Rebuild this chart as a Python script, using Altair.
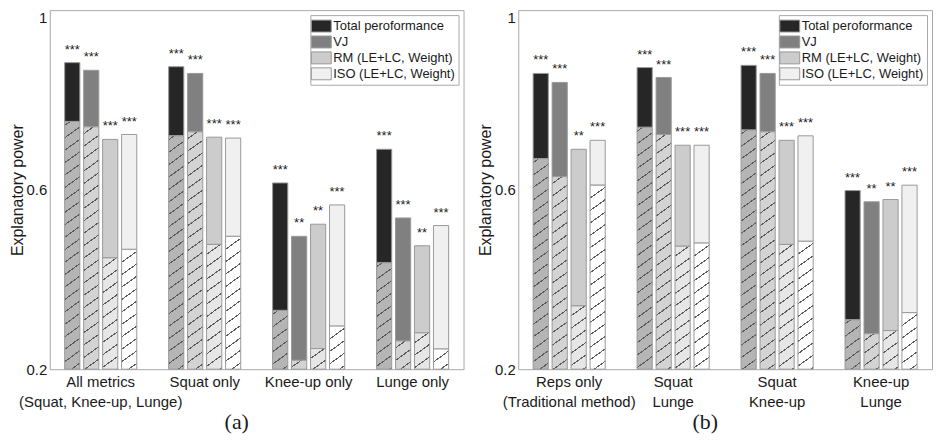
import altair as alt
import pandas as pd

# ---------------- data ----------------
series = ["Total peroformance", "VJ", "RM (LE+LC, Weight)", "ISO (LE+LC, Weight)"]

cats_a = ["All metrics|(Squat, Knee-up, Lunge)", "Squat only", "Knee-up only", "Lunge only"]
cats_b = ["Reps only|(Traditional method)", "Squat|Lunge", "Squat|Knee-up", "Knee-up|Lunge"]

# total height of each bar (rows = categories, columns = series)
a_total = [[0.883, 0.866, 0.712, 0.723],
           [0.874, 0.859, 0.717, 0.715],
           [0.615, 0.496, 0.523, 0.566],
           [0.690, 0.537, 0.475, 0.520]]
# height of the hatched lower part
a_hatch = [[0.752, 0.740, 0.448, 0.467],
           [0.720, 0.729, 0.478, 0.496],
           [0.331, 0.220, 0.246, 0.296],
           [0.437, 0.263, 0.281, 0.245]]
a_sig = [["***", "***", "***", "***"],
         ["***", "***", "***", "***"],
         ["***", "**", "**", "***"],
         ["***", "***", "**", "***"]]

b_total = [[0.859, 0.839, 0.690, 0.710],
           [0.872, 0.850, 0.699, 0.699],
           [0.877, 0.859, 0.710, 0.720],
           [0.598, 0.573, 0.578, 0.610]]
b_hatch = [[0.669, 0.629, 0.341, 0.610],
           [0.739, 0.723, 0.474, 0.481],
           [0.733, 0.729, 0.478, 0.485],
           [0.310, 0.279, 0.286, 0.326]]
b_sig = [["***", "***", "**", "***"],
         ["***", "***", "***", "***"],
         ["***", "***", "***", "***"],
         ["***", "**", "**", "***"]]

y_ticks = [0.2, 0.6, 1.0]

# ---------------- style ----------------
SOLID = ["#262626", "#808080", "#cccccc", "#f0f0f0"]
HATCH_BG = ["#b5b5b5", "#d3d3d3", "#e6e6e6", "#ffffff"]
HATCH_LINE = "#5a5a5a"
EDGE = "#999999"
TXT = "#1a1a1a"
FONT = "Liberation Sans"

W, H = 416, 361
YMIN, YMAX = 0.2, 1.0
XPI, XPO = 0.27, 0.125
OPI, OPO = 0.2, 0.1


def bar_width(n_cats):
    step = W / (n_cats - XPI + 2 * XPO)
    band = step * (1 - XPI)
    sub = band / (len(series) - OPI + 2 * OPO)
    return sub * (1 - OPI)


def hatch_gradient(bg, h_px, w_px, slope=0.72, spacing=12.5, thick=1.3, phase=5.0):
    L = slope * w_px + h_px
    stops = [{"offset": 0, "color": bg}]
    p = phase
    while p < L:
        a = max(0.0, (p - thick / 2) / L)
        b = min(1.0, (p + thick / 2) / L)
        a, b = round(a, 5), round(b, 5)
        stops += [{"offset": a, "color": bg}, {"offset": a, "color": HATCH_LINE},
                  {"offset": b, "color": HATCH_LINE}, {"offset": b, "color": bg}]
        p += spacing
    stops.append({"offset": 1, "color": bg})
    denom = slope ** 2 * w_px ** 2 + h_px ** 2
    x2 = L * slope * w_px / denom
    y2 = L * h_px / denom
    return {"gradient": "linear", "x1": 0, "y1": 0,
            "x2": round(x2, 5), "y2": round(y2, 5), "stops": stops}


def panel(cats, totals, hatches, sigs, label):
    rows = []
    for i, c in enumerate(cats):
        for j, s in enumerate(series):
            rows.append(dict(id=len(rows), cat=c, series=s, total=totals[i][j],
                             hatch=hatches[i][j], sig=sigs[i][j], sidx=j))
    df = pd.DataFrame(rows)
    base = alt.Chart(df)

    xaxis = alt.Axis(title=None, labelExpr="split(datum.label, '|')", ticks=False,
                     domain=False, labelAngle=0, labelFontSize=15, labelPadding=5,
                     labelLineHeight=21, labelColor=TXT, labelFont=FONT)
    x = alt.X("cat:N", scale=alt.Scale(domain=cats, paddingInner=XPI, paddingOuter=XPO),
              axis=xaxis)
    xo = alt.XOffset("series:N", scale=alt.Scale(domain=series, paddingInner=OPI,
                                                  paddingOuter=OPO))
    yscale = alt.Scale(domain=[YMIN, YMAX], nice=False, zero=False)
    yaxis = alt.Axis(values=y_ticks, format=".1~f", title="Explanatory power", ticks=False,
                     domain=False, grid=False, labelFontSize=15, labelPadding=3,
                     labelBaseline={"condition": {"test": "datum.value >= 1", "value": "top"},
                                    "value": "middle"},
                     titleFontSize=16, titleFontWeight="normal", titlePadding=1,
                     labelColor=TXT, titleColor=TXT, labelFont=FONT, titleFont=FONT)

    top = base.mark_bar(stroke=EDGE, strokeWidth=1).encode(
        x=x, xOffset=xo,
        y=alt.Y("total:Q", scale=yscale, axis=yaxis),
        y2="hatch:Q",
        color=alt.Color("series:N", scale=alt.Scale(domain=series, range=SOLID),
                        legend=alt.Legend(
                            title=None, orient="top-right", offset=5,
                            fillColor="white", strokeColor="#a8a8a8", padding=3,
                            symbolType="M-1.333,-0.8H1.333V0.8H-1.333Z", symbolSize=225,
                            symbolStrokeColor=EDGE, symbolStrokeWidth=1, symbolOpacity=1,
                            labelFontSize=13, labelFont=FONT, labelColor=TXT,
                            labelOffset=4, rowPadding=0, labelLimit=300)),
    )

    bw = bar_width(len(cats))
    hatch_layers = []
    for r in rows:
        h_px = (r["hatch"] - YMIN) / (YMAX - YMIN) * H
        grad = hatch_gradient(HATCH_BG[r["sidx"]], h_px, bw, phase=4.0 + 3.0 * r["sidx"])
        hatch_layers.append(
            base.transform_filter(f"datum.id == {r['id']}")
            .mark_bar(fill=grad, stroke=EDGE, strokeWidth=1)
            .encode(x=x, xOffset=xo,
                    y=alt.Y("hatch:Q", scale=yscale, axis=yaxis),
                    y2=alt.Y2Datum(YMIN))
        )

    stars = base.mark_text(baseline="alphabetic", dy=-9, fontSize=13, font=FONT,
                           color=TXT).encode(
        x=x, xOffset=xo,
        y=alt.Y("total:Q", scale=yscale, axis=yaxis),
        text="sig:N",
    )

    return alt.layer(top, *hatch_layers, stars).properties(
        width=W, height=H,
        title=alt.TitleParams(text=label, orient="bottom", font="Liberation Serif",
                              fontSize=22, fontWeight="normal", color=TXT, dx=-20,
                              offset=2),
    )


pa = panel(cats_a, a_total, a_hatch, a_sig, "(a)")
pb = panel(cats_b, b_total, b_hatch, b_sig, "(b)")

chart = (
    alt.hconcat(pa, pb, spacing=12)
    .resolve_scale(color="independent")
    .properties(padding={"left": 0, "top": 0, "right": 0, "bottom": 0},
                background="white")
    .configure_view(stroke="#a8a8a8", strokeWidth=1)
)

chart.save("out.html", embed_options={"renderer": "svg", "actions": False})
